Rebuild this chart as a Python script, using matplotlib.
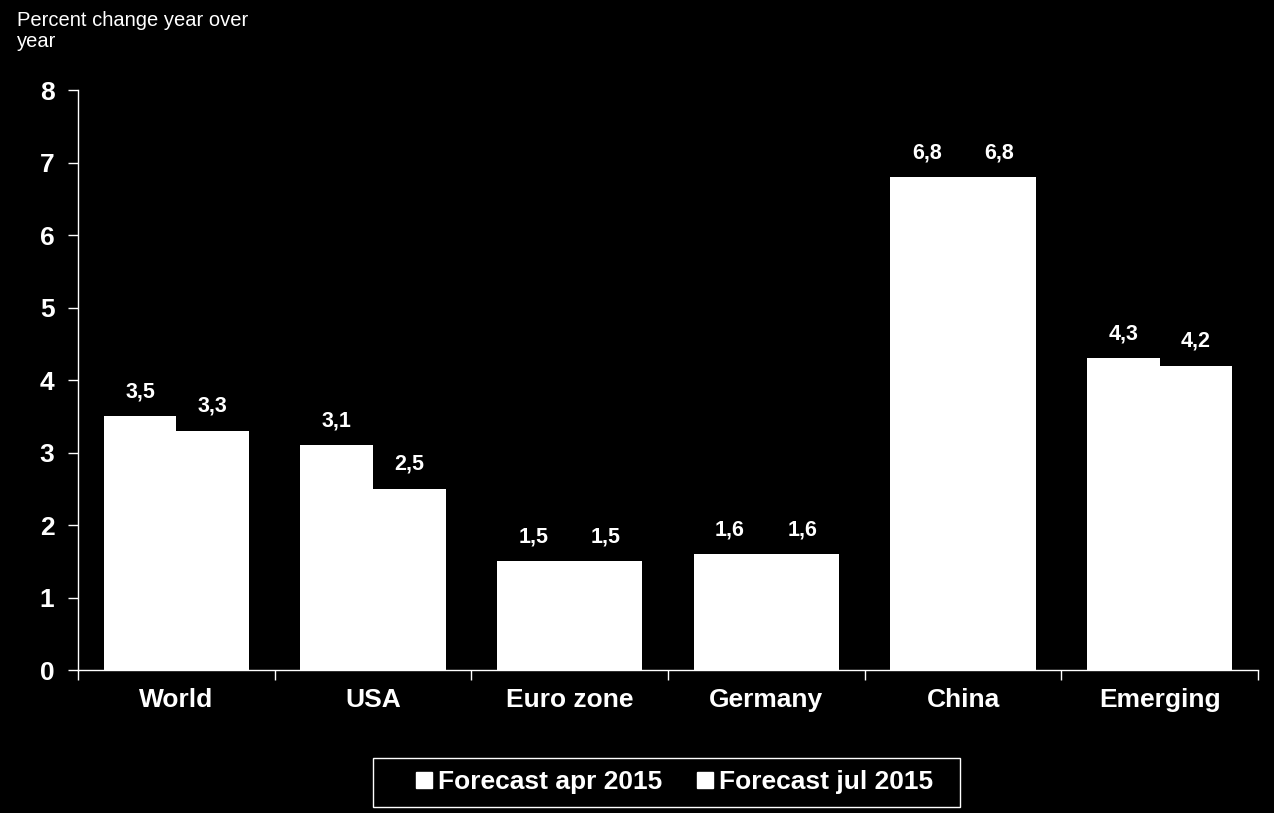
import matplotlib
matplotlib.use("Agg")
import matplotlib.pyplot as plt
import numpy as np
from matplotlib.lines import Line2D
from matplotlib.patches import Rectangle

categories = ["World", "USA", "Euro zone", "Germany", "China", "Emerging"]
forecast_apr = [3.5, 3.1, 1.5, 1.6, 6.8, 4.3]
forecast_jul = [3.3, 2.5, 1.5, 1.6, 6.8, 4.2]
series_names = ["Forecast apr 2015", "Forecast jul 2015"]
y_ticks = [0, 1, 2, 3, 4, 5, 6, 7, 8]

def fmt(v):
    return f"{v:.1f}".replace(".", ",")

plt.rcParams['font.family'] = ['Liberation Sans', 'DejaVu Sans']

fig = plt.figure(figsize=(12.74, 8.13), dpi=100, facecolor="black")
ax = fig.add_axes([78/1274, 143/813, 1180/1274, 580/813])
ax.set_facecolor("black")

x = np.arange(len(categories))
w = 0.369
b1 = ax.bar(x - w/2, forecast_apr, w, color="white", linewidth=0)
b2 = ax.bar(x + w/2, forecast_jul, w, color="white", linewidth=0)

for rects, vals in ((b1, forecast_apr), (b2, forecast_jul)):
    for r, v in zip(rects, vals):
        ax.annotate(fmt(v), (r.get_x() + r.get_width()/2, v), xytext=(0, 10),
                    textcoords="offset points", ha="center", va="bottom",
                    color="white", fontsize=15.5, fontweight="bold")

ax.set_xlim(-0.5, len(categories) - 0.5)
ax.set_ylim(0, 8)
ax.set_yticks(y_ticks)
ax.set_yticklabels([str(t) for t in y_ticks], fontsize=19, fontweight="bold", color="white")
ax.set_xticks(x)
ax.set_xticklabels(categories, fontsize=19, fontweight="bold", color="white")
ax.set_xticks(np.arange(-0.5, len(categories)), minor=True)
ax.tick_params(axis="x", which="major", length=0, pad=13)
ax.tick_params(axis="x", which="minor", length=7, color="white", direction="out", width=1)
ax.tick_params(axis="y", length=7, color="white", direction="out", width=1, pad=10)

for s in ["top", "right"]:
    ax.spines[s].set_visible(False)
for s in ["left", "bottom"]:
    ax.spines[s].set_color("white")
    ax.spines[s].set_linewidth(1)

fig.text(17/1274, 1 - 11/813, "Percent change year over\nyear", color="white",
         fontsize=14.5, ha="left", va="top", linespacing=1.15)

# legend frame
fig.patches.append(Rectangle((373/1274, 1 - 807/813), 587/1274, 49/813,
                             transform=fig.transFigure, facecolor="black",
                             edgecolor="white", linewidth=1, zorder=0))
handles = [Line2D([], [], marker="s", linestyle="none", markersize=11,
                  markerfacecolor="white", markeredgecolor="white") for _ in series_names]
leg = fig.legend(handles, series_names, loc="center", bbox_to_anchor=(672/1274, 1 - 782/813),
                 ncol=2, frameon=False, handletextpad=0.05, columnspacing=1.1, handlelength=1.0,
                 borderpad=0.3,
                 prop={"family": ["Liberation Sans"], "weight": "bold", "size": 19})
for t in leg.get_texts():
    t.set_color("white")

fig.savefig("out.png", dpi=100, facecolor="black")
